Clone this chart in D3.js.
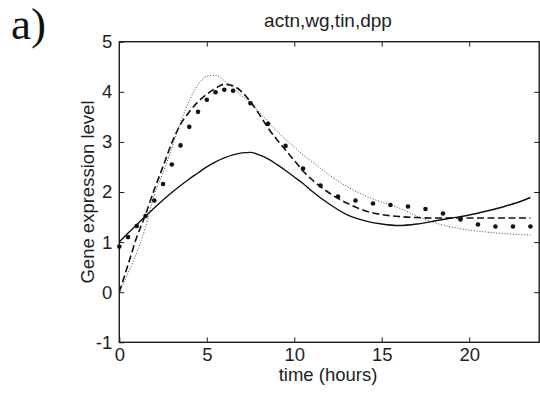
<!DOCTYPE html>
<html>
<head>
<meta charset="utf-8">
<script src="https://cdn.jsdelivr.net/npm/d3@7"></script>
<style>
  body { margin: 0; background: #fff; }
  svg { display: block; font-family: Arial, "Liberation Sans", sans-serif; }
</style>
</head>
<body>
<svg id="chart" width="540" height="394"></svg>
<script>
// time grid shared by the three model curves (hours)
const hours = [0, 0.5, 1, 1.5, 2, 2.5, 3, 3.5, 4, 4.5, 5, 5.5, 6, 6.5, 7, 7.5, 8, 8.5, 9, 9.5,
               10, 10.5, 11, 12, 13, 14, 15, 16, 17, 18, 19, 20, 21, 22, 23, 23.5];

// model curves
const solidValues = [1.00, 1.18, 1.35, 1.52, 1.68, 1.84, 1.99, 2.13, 2.26, 2.38, 2.50, 2.60, 2.68, 2.74, 2.78, 2.79, 2.74, 2.66, 2.55, 2.43,
                     2.30, 2.17, 2.02, 1.76, 1.55, 1.43, 1.36, 1.33, 1.36, 1.42, 1.48, 1.54, 1.62, 1.71, 1.82, 1.89];
const dashedValues = [0.00, 0.55, 1.10, 1.55, 2.05, 2.51, 2.98, 3.35, 3.60, 3.80, 3.95, 4.07, 4.15, 4.12, 4.00, 3.80, 3.55, 3.28, 3.05, 2.84,
                      2.63, 2.42, 2.25, 1.98, 1.78, 1.63, 1.55, 1.51, 1.49, 1.48, 1.48, 1.48, 1.48, 1.48, 1.48, 1.48];
const dottedValues = [0.00, 0.38, 0.80, 1.30, 1.95, 2.38, 2.88, 3.39, 3.82, 4.14, 4.31, 4.33, 4.22, 4.08, 3.92, 3.77, 3.59, 3.41, 3.22, 3.05,
                      2.90, 2.74, 2.61, 2.34, 2.11, 1.93, 1.80, 1.68, 1.52, 1.39, 1.30, 1.24, 1.20, 1.17, 1.15, 1.14];

// measured data (dots)
const obsHours = [0, 0.5, 1, 1.5, 2, 2.5, 3, 3.5, 4, 4.5, 5, 5.5, 6, 6.5, 7.5, 8.5, 9.5, 10.5, 11.5, 12.5,
                  13.5, 14.5, 15.5, 16.5, 17.5, 18.5, 19.5, 20.5, 21.5, 22.5, 23.5];
const obsValues = [0.91, 1.10, 1.32, 1.52, 1.83, 2.16, 2.55, 2.93, 3.30, 3.60, 3.84, 3.99, 4.04, 4.02, 3.77, 3.36, 2.92, 2.47, 2.13, 1.91,
                   1.83, 1.77, 1.74, 1.71, 1.66, 1.57, 1.45, 1.35, 1.31, 1.31, 1.31];

const xTicks = [0, 5, 10, 15, 20];
const yTicks = [-1, 0, 1, 2, 3, 4, 5];

const svg = d3.select("#chart");
const margin = { top: 41.7, right: 0.8, bottom: 51.7, left: 119.3 };
const width = 540 - margin.left - margin.right;
const height = 394 - margin.top - margin.bottom;
const ink = "#1e1e1e";

const g = svg.append("g")
    .attr("transform", `translate(${margin.left},${margin.top})`);

const x = d3.scaleLinear().domain([0, 24]).range([0, width]);
const y = d3.scaleLinear().domain([-1, 5]).range([height, 0]);

// plain hyphen minus like matlab
const plain = d => String(d);

// axes, ticks pointing inwards like matlab
function styleAxis(sel) {
    sel.select(".domain").remove();
    sel.selectAll(".tick line").attr("stroke", ink).attr("stroke-width", 1);
    sel.selectAll(".tick text").attr("fill", ink).style("font-size", "18.5px")
        .style("font-family", "Arial, 'Liberation Sans', sans-serif");
}

g.append("g")
    .attr("transform", `translate(0,${height})`)
    .call(d3.axisBottom(x).tickValues(xTicks).tickFormat(plain)
        .tickSizeInner(-5).tickSizeOuter(0).tickPadding(6))
    .call(styleAxis);

g.append("g")
    .call(d3.axisTop(x).tickValues(xTicks.slice(1)).tickSizeInner(-5).tickSizeOuter(0).tickFormat(""))
    .call(styleAxis);

g.append("g")
    .call(d3.axisLeft(y).tickValues(yTicks).tickFormat(plain)
        .tickSizeInner(-5).tickSizeOuter(0).tickPadding(7))
    .call(styleAxis);

g.append("g")
    .attr("transform", `translate(${width},0)`)
    .call(d3.axisRight(y).tickValues(yTicks.slice(1, -1)).tickSizeInner(-5).tickSizeOuter(0).tickFormat(""))
    .call(styleAxis);

// box
g.append("rect")
    .attr("x", 0).attr("y", 0)
    .attr("width", width).attr("height", height)
    .attr("fill", "none")
    .attr("stroke", ink)
    .attr("stroke-width", 1.4);

const line = d3.line()
    .x(d => x(d[0]))
    .y(d => y(d[1]))
    .curve(d3.curveMonotoneX);

const series = [
    { values: solidValues, dash: null, width: 1.4, color: "#111" },
    { values: dashedValues, dash: "7,3.5", width: 1.6, color: "#111" },
    { values: dottedValues, dash: "1,1.8", width: 1, color: "#444" }
];

series.forEach(s => {
    g.append("path")
        .datum(hours.map((h, i) => [h, s.values[i]]))
        .attr("fill", "none")
        .attr("stroke", s.color)
        .attr("stroke-width", s.width)
        .attr("stroke-dasharray", s.dash)
        .attr("d", line);
});

g.selectAll(".obs")
    .data(obsHours.map((h, i) => [h, obsValues[i]]))
    .join("circle")
    .attr("class", "obs")
    .attr("cx", d => x(d[0]))
    .attr("cy", d => y(d[1]))
    .attr("r", 2.3)
    .attr("fill", "#111");

// labels
svg.append("text")
    .attr("x", 328).attr("y", 27)
    .attr("text-anchor", "middle")
    .attr("fill", ink)
    .style("font-size", "19px")
    .text("actn,wg,tin,dpp");

svg.append("text")
    .attr("x", 328).attr("y", 381)
    .attr("text-anchor", "middle")
    .attr("fill", ink)
    .style("font-size", "18.5px")
    .text("time (hours)");

svg.append("text")
    .attr("transform", "translate(94,192) rotate(-90)")
    .attr("text-anchor", "middle")
    .attr("fill", ink)
    .style("font-size", "18.5px")
    .text("Gene expression level");

svg.append("text")
    .attr("x", 11).attr("y", 39)
    .attr("fill", "#111")
    .style("font-family", "'Liberation Serif', 'Times New Roman', serif")
    .style("font-size", "45px")
    .text("a)");
</script>
</body>
</html>
